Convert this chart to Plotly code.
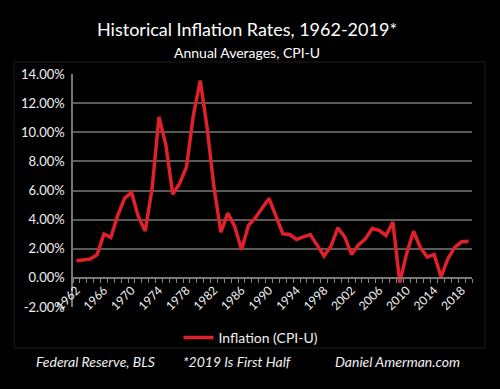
import plotly.graph_objects as go

years = [str(y) for y in range(1962, 2020)]
inflation = [1.17, 1.22, 1.30, 1.58, 3.02, 2.77, 4.30, 5.46, 5.87, 4.20,
             3.22, 6.15, 11.06, 9.12, 5.74, 6.49, 7.63, 11.18, 13.55, 10.30,
             6.18, 3.14, 4.45, 3.55, 1.93, 3.60, 4.12, 4.80, 5.45, 4.24,
             3.03, 2.98, 2.64, 2.82, 2.98, 2.23, 1.50, 2.18, 3.43, 2.82,
             1.61, 2.27, 2.68, 3.39, 3.27, 2.91, 3.84, -0.32, 1.68, 3.20,
             2.07, 1.43, 1.61, 0.07, 1.32, 2.11, 2.48, 2.52]
tick_text = [y if (int(y) - 1962) % 4 == 0 else "" for y in years]
y_ticks = [-2, 0, 2, 4, 6, 8, 10, 12, 14]
y_labels = ["-2.00%", "0.00%", "2.00%", "4.00%", "6.00%", "8.00%", "10.00%", "12.00%", "14.00%"]

FONT = "Lato"
fig = go.Figure()
fig.add_trace(go.Scatter(
    x=years, y=inflation, mode="lines", name="Inflation (CPI-U)",
    line=dict(color="#e0202a", width=3.5),
))


def px(x):
    return (x - 73) / 399


def py(y):
    return (307 - y) / 233


fig.update_layout(
    width=500, height=389,
    paper_bgcolor="black", plot_bgcolor="black",
    margin=dict(l=73, r=28, t=74, b=82, autoexpand=False),
    font=dict(family=FONT, color="#e8e8e8", size=13),
    showlegend=True,
    legend=dict(orientation="h", x=px(251), xanchor="center", y=py(322), yanchor="top",
                font=dict(size=14, color="#f0f0f0", family=FONT), itemwidth=30,
                bgcolor="rgba(0,0,0,0)"),
    xaxis=dict(
        type="category", range=[-0.5, 57.5],
        tickmode="array", tickvals=years, ticktext=tick_text,
        tickson="boundaries", ticks="outside", ticklen=4, tickcolor="#888888",
        tickangle=-45, tickfont=dict(size=12, color="#f0f0f0", family=FONT),
        showgrid=False, showline=True, linecolor="#777777", linewidth=1.5,
        anchor="free", position=0.125, zeroline=False, automargin=False,
    ),
    yaxis=dict(
        range=[-2, 14], tickmode="array", tickvals=y_ticks, ticktext=y_labels,
        showgrid=True, gridcolor="#5a5a5a", gridwidth=1.5,
        zeroline=False, showline=True, linecolor="#777777", linewidth=1.5,
        ticks="", tickfont=dict(size=13, color="#f0f0f0", family=FONT),
        ticklabelstandoff=4, automargin=False,
    ),
    shapes=[dict(type="rect", xref="paper", yref="paper",
                 x0=px(14), x1=px(485), y0=py(348), y1=py(62),
                 line=dict(color="#1c1c1c", width=1), layer="below")],
    annotations=[
        dict(text="Historical Inflation Rates, 1962-2019*", xref="paper", yref="paper",
             x=px(247), y=py(29), xanchor="center", yanchor="middle", showarrow=False,
             font=dict(size=18, color="#ffffff", family=FONT)),
        dict(text="Annual Averages, CPI-U", xref="paper", yref="paper",
             x=px(247), y=py(52), xanchor="center", yanchor="middle", showarrow=False,
             font=dict(size=14, color="#ffffff", family=FONT)),
        dict(text="<i>Federal Reserve, BLS</i>", xref="paper", yref="paper",
             x=px(95), y=py(361), xanchor="center", yanchor="middle", showarrow=False,
             font=dict(size=14, color="#f0f0f0", family=FONT)),
        dict(text="<i>*2019 Is First Half</i>", xref="paper", yref="paper",
             x=px(237), y=py(361), xanchor="center", yanchor="middle", showarrow=False,
             font=dict(size=14, color="#f0f0f0", family=FONT)),
        dict(text="<i>Daniel Amerman.com</i>", xref="paper", yref="paper",
             x=px(397), y=py(361), xanchor="center", yanchor="middle", showarrow=False,
             font=dict(size=14, color="#f0f0f0", family=FONT)),
    ],
)

fig.write_html("out.html", config={"displayModeBar": False},
               post_script="document.body.style.margin='0';document.body.style.background='black';")
